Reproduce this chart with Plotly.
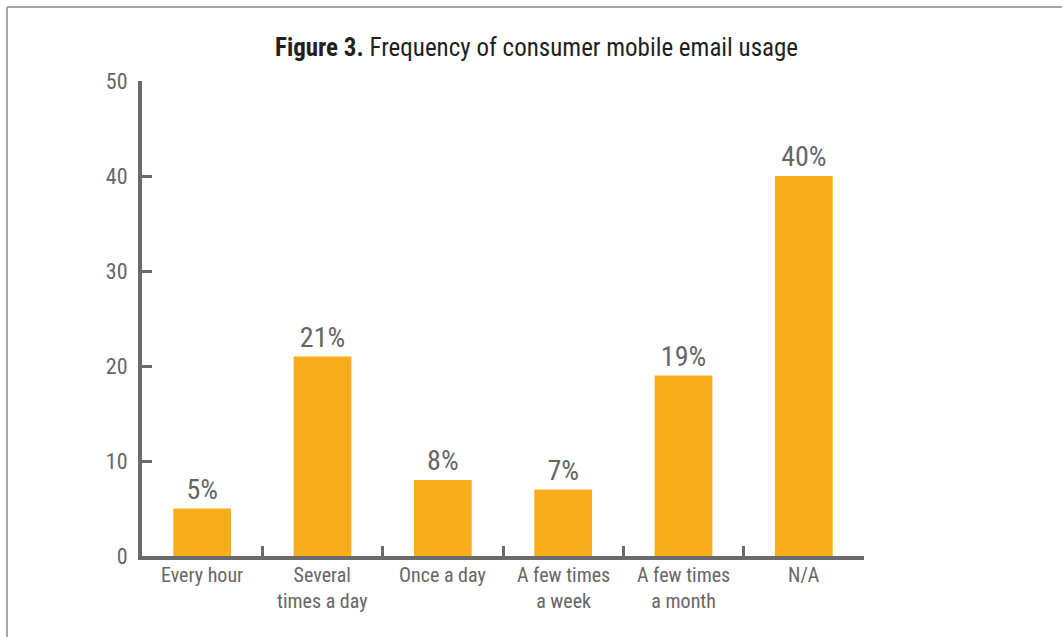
import plotly.graph_objects as go

categories = ["Every hour", "Several<br>times a day", "Once a day",
              "A few times<br>a week", "A few times<br>a month", "N/A"]
values = [5, 21, 8, 7, 19, 40]
y_ticks = [0, 10, 20, 30, 40, 50]

FONT = "Liberation Sans Narrow, Roboto Condensed, Arial Narrow, DejaVu Sans Condensed, sans-serif"
AXIS = "#6b6b6b"
BAR = "#F8AE1C"

W, H = 1062, 637
L, R, T, B = 142, 198, 81, 81
pw, ph = W - L - R, H - T - B


def px(x):
    return (x - L) / pw


def py(y):
    return (H - B - y) / ph


fig = go.Figure(go.Bar(
    x=list(range(len(categories))),
    y=values,
    width=0.48,
    marker=dict(color=BAR, line=dict(width=0)),
    texttemplate="%{y}%",
    textposition="outside",
    textfont=dict(family=FONT, size=28, color="#666666"),
    cliponaxis=False,
))

fig.update_layout(
    width=W, height=H,
    margin=dict(l=L, r=R, t=T, b=B),
    paper_bgcolor="white", plot_bgcolor="white",
    showlegend=False,
    bargap=0.52,
    font=dict(family=FONT, color="#666666"),
    xaxis=dict(
        range=[-0.5, len(categories) - 0.5],
        tickmode="array",
        tickvals=[i - 0.5 for i in range(len(categories) + 1)],
        ticktext=[""] * (len(categories) + 1),
        ticks="inside", ticklen=10, tickwidth=2.5, tickcolor=AXIS,
        showline=True, linecolor=AXIS, linewidth=4,
        showgrid=False, zeroline=False, fixedrange=True,
    ),
    yaxis=dict(
        range=[0, 50],
        tickvals=y_ticks,
        ticks="inside", ticklen=10, tickwidth=2.5, tickcolor=AXIS,
        showline=True, linecolor=AXIS, linewidth=4,
        showgrid=False, zeroline=False,
        tickfont=dict(family=FONT, size=22, color="#666666"),
        ticklabelstandoff=6,
    ),
)

# category labels under each bar
for i, c in enumerate(categories):
    fig.add_annotation(
        x=i, y=0, xref="x", yref="y", text=c, showarrow=False,
        yanchor="top", yshift=-5, align="center",
        font=dict(family=FONT, size=20, color="#666666"),
    )

# title
fig.add_annotation(
    x=px(536), y=py(48), xref="paper", yref="paper",
    text="<b>Figure 3.</b> Frequency of consumer mobile email usage",
    showarrow=False, xanchor="center", yanchor="middle",
    font=dict(family=FONT, size=25, color="#231f20"),
)

# frame lines along the top and left edges
fig.add_shape(type="line", xref="paper", yref="paper",
              x0=px(7), y0=py(7), x1=px(W + 5), y1=py(7),
              line=dict(color="#a6a6a6", width=2))
fig.add_shape(type="line", xref="paper", yref="paper",
              x0=px(7), y0=py(7), x1=px(7), y1=py(H + 5),
              line=dict(color="#a6a6a6", width=2))

fig.write_html("out.html")
